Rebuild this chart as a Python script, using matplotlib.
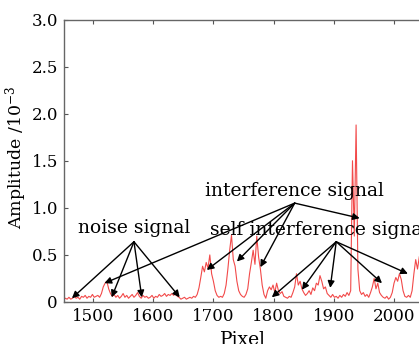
import numpy as np
import matplotlib
matplotlib.use('Agg')
import matplotlib.pyplot as plt

# amplitude (x1e-3) read every 3 pixels starting at pixel 1448
amplitude = [
    0.03, 0.02, 0.04, 0.03, 0.05, 0.03, 0.04, 0.06, 0.04, 0.05,
    0.03, 0.06, 0.05, 0.07, 0.04, 0.06, 0.05, 0.08, 0.05, 0.06,
    0.07, 0.05, 0.09, 0.16, 0.20, 0.22, 0.14, 0.09, 0.06, 0.08,
    0.05, 0.07, 0.04, 0.06, 0.09, 0.05, 0.07, 0.04, 0.06, 0.08,
    0.05, 0.07, 0.10, 0.06, 0.04, 0.07, 0.05, 0.06, 0.04, 0.05,
    0.07, 0.04, 0.06, 0.05, 0.08, 0.06, 0.07, 0.09, 0.06, 0.08,
    0.07, 0.09, 0.07, 0.10, 0.06, 0.05, 0.03, 0.04, 0.05, 0.03,
    0.04, 0.05, 0.04, 0.06, 0.05, 0.08, 0.15, 0.26, 0.38, 0.32,
    0.42, 0.36, 0.50, 0.30, 0.22, 0.12, 0.07, 0.05, 0.06, 0.05,
    0.09, 0.18, 0.35, 0.55, 0.71, 0.45, 0.38, 0.22, 0.12, 0.08,
    0.06, 0.05, 0.08, 0.14, 0.30, 0.42, 0.55, 0.40, 0.70, 0.48,
    0.35, 0.18, 0.08, 0.04, 0.12, 0.16, 0.13, 0.18, 0.10, 0.20,
    0.12, 0.09, 0.11, 0.06, 0.05, 0.04, 0.06, 0.05, 0.10, 0.16,
    0.30, 0.18, 0.22, 0.14, 0.10, 0.07, 0.09, 0.12, 0.08, 0.15,
    0.12, 0.20, 0.18, 0.28, 0.22, 0.14, 0.16, 0.09, 0.07, 0.05,
    0.08, 0.05, 0.06, 0.04, 0.07, 0.05, 0.08, 0.06, 0.10, 0.07,
    0.12, 1.50, 0.70, 1.88, 0.35, 0.12, 0.08, 0.10, 0.06, 0.08,
    0.05, 0.10, 0.16, 0.25, 0.14, 0.20, 0.10, 0.07, 0.05, 0.04,
    0.06, 0.03, 0.05, 0.10, 0.20, 0.26, 0.22, 0.30, 0.24, 0.12,
    0.06, 0.05, 0.07, 0.05, 0.12, 0.30, 0.45, 0.35, 0.48,
]
pixel = np.arange(1448, 1448 + 3 * len(amplitude), 3)

xticks = [1500, 1600, 1700, 1800, 1900, 2000]
yticks = [0, 0.5, 1.0, 1.5, 2.0, 2.5, 3.0]
ytick_labels = ['0', '0.5', '1.0', '1.5', '2.0', '2.5', '3.0']

# annotation groups: label position (baseline), arrow origin, arrow targets
noise_text = (1568, 0.73)
noise_origin = (1568, 0.64)
noise_targets = [(1465, 0.04), (1531, 0.05), (1581, 0.05), (1644, 0.05)]

interf_text = (1835, 1.13)
interf_origin = (1835, 1.05)
interf_targets = [(1519, 0.20), (1689, 0.34), (1739, 0.43), (1778, 0.37), (1943, 0.89)]

self_text = (1694, 0.71)
self_origin = (1904, 0.64)
self_targets = [(1797, 0.05), (1847, 0.13), (1894, 0.15), (1980, 0.20), (2023, 0.30)]

plt.rcParams['font.family'] = 'DejaVu Serif'
plt.rcParams['mathtext.fontset'] = 'dejavuserif'

fig = plt.figure(figsize=(4.19, 3.44), dpi=100)
ax = fig.add_axes([0.1516, 0.1221, 0.875, 0.8212])

ax.plot(pixel, amplitude, '-', color='#f24a4a', lw=0.8)

ax.set_xlim(1451, 2060)
ax.set_ylim(0, 3.0)
ax.set_xticks(xticks)
ax.set_yticks(yticks)
ax.set_yticklabels(ytick_labels)
ax.tick_params(direction='in', length=3, labelsize=12, color='#555555', top=True, pad=4)
for s in ax.spines.values():
    s.set_color('#666666')
    s.set_linewidth(1.0)

ax.set_xlabel('Pixel', size=13.5)
ax.xaxis.set_label_coords(0.49, -0.103)
ax.set_ylabel('Amplitude /10$^{-3}$', size=12.5)
ax.yaxis.set_label_coords(-0.095, 0.511)

arrow = dict(arrowstyle='-|>', color='k', lw=1.0, mutation_scale=10, shrinkA=0, shrinkB=0)

ax.text(noise_text[0], noise_text[1], 'noise signal', size=13.5, ha='center', va='baseline')
for t in noise_targets:
    ax.annotate('', xy=t, xytext=noise_origin, arrowprops=arrow)

ax.text(interf_text[0], interf_text[1], 'interference signal', size=13.5, ha='center', va='baseline')
for t in interf_targets:
    ax.annotate('', xy=t, xytext=interf_origin, arrowprops=arrow)

ax.text(self_text[0], self_text[1], 'self interference signal', size=13.5, ha='left', va='baseline')
for t in self_targets:
    ax.annotate('', xy=t, xytext=self_origin, arrowprops=arrow)

fig.savefig('out.png', dpi=100)
